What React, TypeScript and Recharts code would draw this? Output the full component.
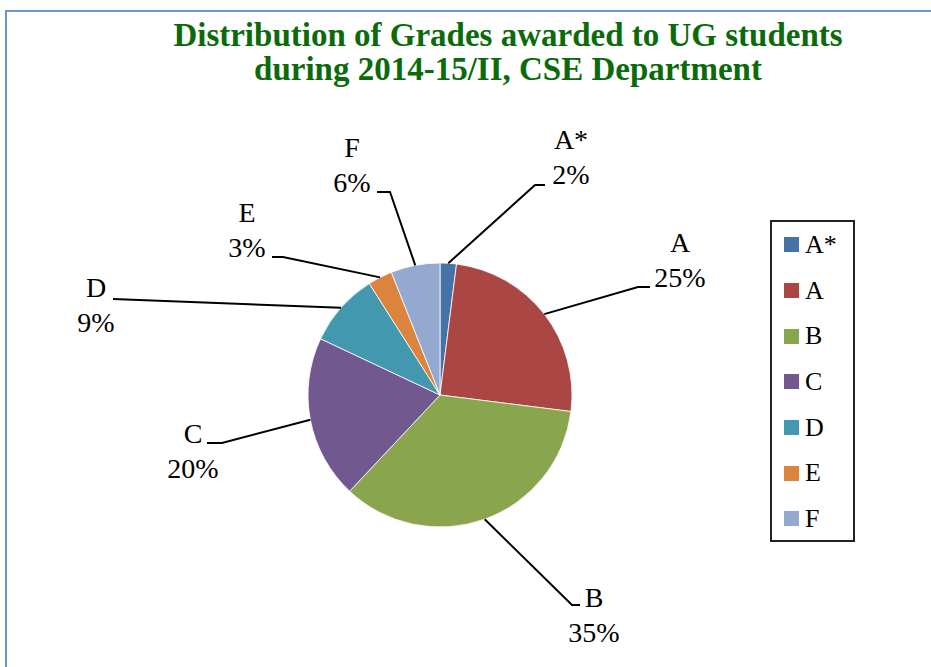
import React from 'react';
import { PieChart, Pie, Cell, Legend } from 'recharts';

const GRADES = ['A*', 'A', 'B', 'C', 'D', 'E', 'F'];
const SHARES = [2, 25, 35, 20, 9, 3, 6];
const COLORS = ['#4572A7', '#AA4643', '#89A54E', '#71588F', '#4198AF', '#DB843D', '#93A9CF'];

const TITLE_LINES = ['Distribution of Grades awarded to UG students', 'during 2014-15/II, CSE Department'];

// leader line elbow / end and text anchor, as offsets from the pie centre
const LABEL_LAYOUT = [
  { ex: 95, ey: -210, hx: 105, tx: 131, ty: -246 },
  { ex: 198, ey: -108, hx: 210, tx: 240, ty: -143 },
  { ex: 132, ey: 210, hx: 140, tx: 154, ty: 212 },
  { ex: -218, ey: 48, hx: -233, tx: -247, ty: 48 },
  { ex: -327, ey: -96, hx: -327, tx: -344, ty: -98 },
  { ex: -157, ey: -138, hx: -168, tx: -193, ty: -173 },
  { ex: -50, ey: -203, hx: -63, tx: -88, ty: -238 },
];

const FONT = '"Liberation Serif", "Times New Roman", serif';
const RAD = Math.PI / 180;

const data = GRADES.map((g, i) => ({ name: g, value: SHARES[i] }));

const renderLabel = (props: any) => {
  const { cx, cy, midAngle, outerRadius, index, name, percent } = props;
  const lay = LABEL_LAYOUT[index];
  const sx = cx + outerRadius * Math.cos(-midAngle * RAD);
  const sy = cy + outerRadius * Math.sin(-midAngle * RAD);
  const pts = `${sx},${sy} ${cx + lay.ex},${cy + lay.ey} ${cx + lay.hx},${cy + lay.ey}`;
  return (
    <g>
      <polyline points={pts} fill="none" stroke="#000" strokeWidth={2} />
      <text x={cx + lay.tx} y={cy + lay.ty} textAnchor="middle" fontFamily={FONT} fontSize={28} fill="#000">
        {name}
      </text>
      <text x={cx + lay.tx} y={cy + lay.ty + 35} textAnchor="middle" fontFamily={FONT} fontSize={28} fill="#000">
        {Math.round(percent * 100)}%
      </text>
    </g>
  );
};

// built from the grade list so the order stays A*, A, B ... F
const renderLegend = () => (
  <div
    style={{
      width: 85,
      height: 322,
      border: '2px solid #222',
      boxSizing: 'border-box',
      paddingLeft: 12,
      fontFamily: FONT,
      background: '#fff',
    }}
  >
    {GRADES.map((g, i) => (
      <div key={g} style={{ display: 'flex', alignItems: 'center', height: 45.7 }}>
        <span style={{ width: 15, height: 15, background: COLORS[i], display: 'inline-block', marginRight: 6 }} />
        <span style={{ fontSize: 26, lineHeight: '26px' }}>{g}</span>
      </div>
    ))}
  </div>
);

export default function App() {
  return (
    <div style={{ position: 'absolute', left: 0, top: 0, width: 931, height: 667, overflow: 'hidden', background: '#fff' }}>
      <div
        style={{
          position: 'absolute',
          left: 5,
          top: 10,
          width: 960,
          height: 700,
          border: '2px solid #6D95CC',
        }}
      />
      <div
        style={{
          position: 'absolute',
          left: 0,
          top: 18,
          width: 1016,
          textAlign: 'center',
          fontFamily: FONT,
          fontWeight: 'bold',
          fontSize: 33,
          lineHeight: '34px',
          color: '#0B6B0B',
        }}
      >
        {TITLE_LINES.map((t) => (
          <div key={t}>{t}</div>
        ))}
      </div>
      <div style={{ position: 'absolute', left: 0, top: 0 }}>
        <PieChart width={931} height={667} margin={{ top: 0, right: 0, bottom: 0, left: 0 }}>
          <Pie
            data={data}
            dataKey="value"
            nameKey="name"
            cx={440}
            cy={395}
            outerRadius={132}
            startAngle={90}
            endAngle={-270}
            stroke="#ffffff"
            strokeWidth={0.8}
            label={renderLabel}
            labelLine={false}
            isAnimationActive={false}
          >
            {data.map((d, i) => (
              <Cell key={d.name} fill={COLORS[i]} />
            ))}
          </Pie>
          <Legend content={renderLegend} wrapperStyle={{ position: 'absolute', left: 770, top: 220, width: 85 }} />
        </PieChart>
      </div>
    </div>
  );
}
